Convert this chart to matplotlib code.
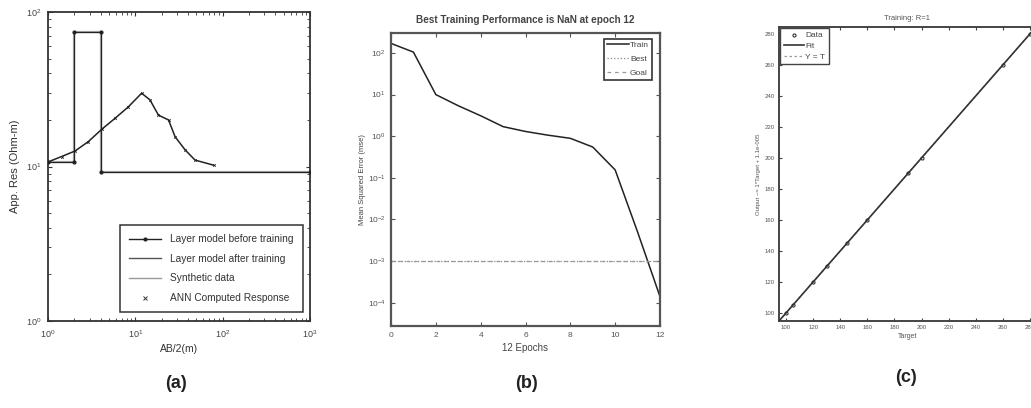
import numpy as np
import matplotlib
matplotlib.use("Agg")
import matplotlib.pyplot as plt
from matplotlib.ticker import LogLocator, FixedLocator, NullFormatter, LogFormatterMathtext

plt.rcParams["font.family"] = ["Liberation Sans", "DejaVu Sans"]
plt.rcParams["mathtext.fontset"] = "custom"
plt.rcParams["mathtext.rm"] = "Liberation Sans"
plt.rcParams["mathtext.it"] = "Liberation Sans:italic"
plt.rcParams["mathtext.bf"] = "Liberation Sans:bold"

# ---- (a) resistivity sounding ----
layer_ab2 = [1, 2, 2, 4, 4, 1000]
layer_rho = [10.7, 10.7, 74, 74, 9.2, 9.2]
sounding_ab2 = [1.0, 1.43, 2.04, 2.9, 4.12, 5.85, 8.3, 11.8, 14.7, 18.4, 24.0, 28.5, 37.2, 48.3, 78.6]
sounding_rho = [10.7, 11.6, 12.6, 14.5, 17.4, 20.5, 24.3, 29.8, 27.0, 21.5, 20.0, 15.6, 12.8, 11.0, 10.2]

# ---- (b) training performance ----
epochs = [0, 1, 2, 3, 4, 5, 6, 7, 8, 9, 10, 11, 12]
train_mse = [170, 105, 10, 5.4, 3.1, 1.7, 1.3, 1.06, 0.89, 0.55, 0.155, 0.005, 1.4e-4]
goal_mse = 1e-3

# ---- (c) regression ----
targets = [100, 105, 120, 130, 145, 160, 190, 200, 260, 280]
outputs = [100, 105, 120, 130, 145, 160, 190, 200, 260, 280]
fit_slope = 1.0
fit_offset = 1.1e-5

fig = plt.figure(figsize=(10.31, 4.08), dpi=100)
W, H = 1031, 408


def px_axes(left, top, right, bottom):
    return fig.add_axes([left / W, 1 - bottom / H, (right - left) / W, (bottom - top) / H])


def matlab_box(ax, lw=1.2, color="#333333"):
    for s in ax.spines.values():
        s.set_linewidth(lw)
        s.set_color(color)
    ax.tick_params(which="both", direction="in", top=True, right=True, colors=color)


# ---------- panel (a) ----------
axa = px_axes(48, 12, 310, 321)
axa.set_xscale("log")
axa.set_yscale("log")
axa.set_xlim(1, 1000)
axa.set_ylim(1, 100)
axa.plot(layer_ab2, layer_rho, color="#aaaaaa", lw=1.6, zorder=2)
axa.plot(layer_ab2, layer_rho, color="#222222", lw=0.9, marker=".", ms=4, zorder=3)
axa.plot(sounding_ab2, sounding_rho, color="#222222", lw=1.1, zorder=3)
axa.plot(sounding_ab2, sounding_rho, ls="none", marker="x", ms=1.8, mew=0.6, color="#222222", zorder=4)
matlab_box(axa, lw=1.3)
axa.xaxis.set_major_locator(LogLocator(base=10, numticks=10))
axa.yaxis.set_major_locator(LogLocator(base=10, numticks=10))
axa.xaxis.set_minor_locator(LogLocator(base=10, subs=np.arange(2, 10), numticks=10))
axa.yaxis.set_minor_locator(LogLocator(base=10, subs=np.arange(2, 10), numticks=10))
axa.xaxis.set_minor_formatter(NullFormatter())
axa.yaxis.set_minor_formatter(NullFormatter())
axa.xaxis.set_major_formatter(LogFormatterMathtext())
axa.yaxis.set_major_formatter(LogFormatterMathtext())
axa.tick_params(which="major", length=3, width=0.8, labelsize=6.5, labelcolor="#444444", pad=5)
axa.tick_params(which="minor", length=2, width=0.6)
axa.set_xlabel("AB/2(m)", fontsize=7.5, color="#333333", labelpad=3)
axa.set_ylabel("App. Res (Ohm-m)", fontsize=8, color="#333333", labelpad=4)

ha = [
    plt.Line2D([], [], color="#222222", lw=1.0, marker=".", ms=4),
    plt.Line2D([], [], color="#555555", lw=1.0),
    plt.Line2D([], [], color="#999999", lw=1.0),
    plt.Line2D([], [], ls="none", marker="x", ms=3, mew=0.7, color="#333333"),
]
la = axa.legend(ha, ["Layer model before training", "Layer model after training",
                     "Synthetic data", "ANN Computed Response"],
                loc="lower right", bbox_to_anchor=(0.992, 0.012), fontsize=7.3,
                frameon=True, fancybox=False, framealpha=1, edgecolor="#333333",
                handlelength=3.2, labelspacing=0.95, borderpad=0.9, handletextpad=0.9)
la.get_frame().set_linewidth(1.1)
for t in la.get_texts():
    t.set_color("#333333")

# ---------- panel (b) ----------
axb = px_axes(391, 33, 660, 326)
axb.set_yscale("log")
axb.set_xlim(0, 12)
axb.set_ylim(10 ** -4.56, 10 ** 2.48)
axb.plot(epochs, train_mse, color="#222222", lw=1.1, label="Train")
axb.axhline(goal_mse, color="#888888", lw=0.9, ls=":", label="Best")
axb.axhline(goal_mse, color="#999999", lw=0.9, ls=(0, (3, 3)), label="Goal")
matlab_box(axb, lw=1.6, color="#555555")
axb.xaxis.set_major_locator(FixedLocator([0, 2, 4, 6, 8, 10, 12]))
axb.yaxis.set_major_locator(LogLocator(base=10, numticks=12))
axb.yaxis.set_minor_locator(FixedLocator([]))
axb.yaxis.set_major_formatter(LogFormatterMathtext())
axb.tick_params(which="major", length=3, width=0.8, labelsize=6, labelcolor="#555555", pad=4)
axb.set_xlabel("12 Epochs", fontsize=7, color="#444444", labelpad=3)
axb.set_ylabel("Mean Squared Error (mse)", fontsize=5.5, color="#444444", labelpad=1)
axb.set_title("Best Training Performance is NaN at epoch 12", fontsize=7.2,
              fontweight="bold", color="#444444", pad=7)
lb = axb.legend(loc="upper right", bbox_to_anchor=(0.985, 0.995), fontsize=6,
                frameon=True, fancybox=False, framealpha=1, edgecolor="#333333",
                handlelength=2.6, handletextpad=0.1, labelspacing=0.7, borderpad=0.35,
                markerfirst=True)
lb.get_frame().set_linewidth(1.2)
for t in lb.get_texts():
    t.set_color("#444444")

# ---------- panel (c) ----------
axc = px_axes(779, 27, 1036, 321)
axc.set_xlim(94.8, 284.5)
axc.set_ylim(94.8, 284.5)
fit_x = np.array([94.8, 284.5])
axc.plot(fit_x, fit_x, color="#999999", lw=0.9, ls=(0, (2, 2)), label="Y = T", zorder=2)
axc.plot(fit_x, fit_slope * fit_x + fit_offset, color="#333333", lw=1.2, label="Fit", zorder=3)
axc.plot(targets, outputs, ls="none", marker="o", ms=2.2, mfc="none", mec="#333333",
         mew=0.8, label="Data", zorder=4)
matlab_box(axc, lw=1.4, color="#444444")
axc.xaxis.set_major_locator(FixedLocator([100, 120, 140, 160, 180, 200, 220, 240, 260, 280]))
axc.yaxis.set_major_locator(FixedLocator([100, 120, 140, 160, 180, 200, 220, 240, 260, 280]))
axc.tick_params(which="major", length=2.5, width=0.8, labelsize=4.3, labelcolor="#555555", pad=3)
axc.set_xlabel("Target", fontsize=5, color="#555555", labelpad=2)
axc.set_ylabel("Output ~= 1*Target + 1.1e-005", fontsize=4.3, color="#555555", labelpad=3)
axc.set_title("Training: R=1", fontsize=5.5, color="#555555", pad=5)
hc, lc = axc.get_legend_handles_labels()
order = [2, 1, 0]
lgc = axc.legend([hc[i] for i in order], [lc[i] for i in order], loc="upper left",
                 fontsize=6, frameon=True, fancybox=False, framealpha=1, edgecolor="#444444",
                 handlelength=2.4, handletextpad=0.2, labelspacing=0.35, borderpad=0.4,
                 borderaxespad=0.15)
lgc.get_frame().set_linewidth(1.0)
for t in lgc.get_texts():
    t.set_color("#444444")

# ---------- panel captions ----------
fig.text(176 / W, 1 - 383 / H, "(a)", fontsize=13, fontweight="bold", color="#222222",
         ha="center", va="center")
fig.text(527 / W, 1 - 383 / H, "(b)", fontsize=13, fontweight="bold", color="#222222",
         ha="center", va="center")
fig.text(906 / W, 1 - 378 / H, "(c)", fontsize=13, fontweight="bold", color="#222222",
         ha="center", va="center")

fig.savefig("out.png", dpi=100)
